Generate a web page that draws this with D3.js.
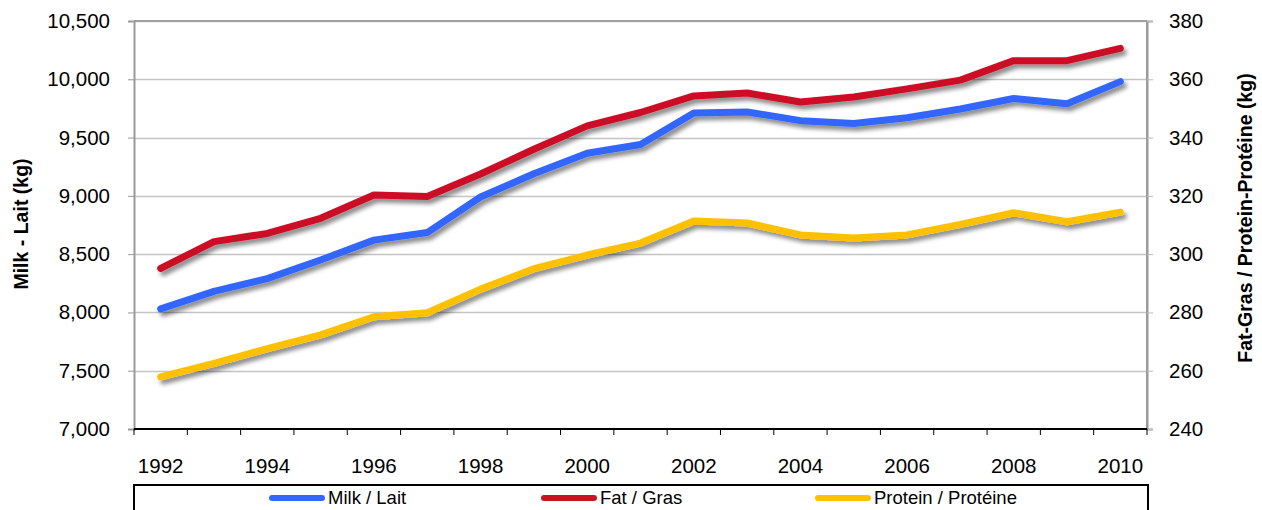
<!DOCTYPE html>
<html>
<head>
<meta charset="utf-8">
<script src="https://cdn.jsdelivr.net/npm/d3@7"></script>
<style>
  body { margin: 0; background: #fff; }
  #chart { width: 1262px; height: 510px; }
  text { font-family: "Liberation Sans", Arial, sans-serif; }
</style>
</head>
<body>
<div id="chart"></div>
<script>
const years = d3.range(1992, 2011);
const milk = [8030, 8180, 8290, 8450, 8620, 8685, 8990, 9190, 9365, 9440, 9710, 9720, 9645, 9620, 9670, 9745, 9835, 9790, 9980];
const fat = [295.1, 304.3, 307.1, 312.3, 320.3, 319.8, 327.5, 336.0, 344.0, 348.6, 354.3, 355.3, 352.2, 353.9, 356.7, 359.7, 366.4, 366.4, 370.6];
const protein = [257.9, 262.5, 267.6, 272.3, 278.5, 279.9, 288.0, 295.0, 299.7, 303.8, 311.4, 310.7, 306.6, 305.5, 306.6, 310.2, 314.2, 311.1, 314.4];
const leftTicks = [7000, 7500, 8000, 8500, 9000, 9500, 10000, 10500];
const rightTicks = [240, 260, 280, 300, 320, 340, 360, 380];
const seriesNames = ["Milk / Lait", "Fat / Gras", "Protein / Protéine"];

const W = 1262, H = 510;
const margin = { top: 21, right: 115, bottom: 81, left: 134 };
const width = W - margin.left - margin.right;
const height = H - margin.top - margin.bottom;

const svg = d3.select("#chart").append("svg")
  .attr("width", W).attr("height", H);

const defs = svg.append("defs");
const shadow = defs.append("filter").attr("id", "shadow")
  .attr("x", "-5%").attr("y", "-20%").attr("width", "110%").attr("height", "140%");
shadow.append("feDropShadow")
  .attr("dx", 3).attr("dy", 4).attr("stdDeviation", 2.2)
  .attr("flood-color", "#000").attr("flood-opacity", 0.45);

const g = svg.append("g").attr("transform", `translate(${margin.left},${margin.top})`);

// Scales
const x = d3.scaleBand().domain(years).range([0, width]);
const yL = d3.scaleLinear().domain([7000, 10500]).range([height, 0]);
const yR = d3.scaleLinear().domain([240, 380]).range([height, 0]);

// Gridlines
g.append("g")
  .selectAll("line")
  .data(leftTicks.slice(1))
  .join("line")
  .attr("x1", 0).attr("x2", width)
  .attr("y1", (d) => Math.round(yL(d)) + 0.5)
  .attr("y2", (d) => Math.round(yL(d)) + 0.5)
  .attr("stroke", "#c4c4c4").attr("stroke-width", 1.5);

// Frame (top, right)
g.append("line").attr("x1", 0).attr("x2", width).attr("y1", 0).attr("y2", 0)
  .attr("stroke", "#a0a0a0").attr("stroke-width", 2);
g.append("line").attr("x1", width).attr("x2", width).attr("y1", 0).attr("y2", height)
  .attr("stroke", "#a0a0a0").attr("stroke-width", 2);

// Left axis
g.append("g")
  .call(d3.axisLeft(yL).tickValues(leftTicks).tickFormat(d3.format(",")).tickSize(6).tickPadding(18))
  .call((a) => a.select(".domain").attr("stroke", "#999").attr("stroke-width", 2))
  .call((a) => a.selectAll(".tick line").attr("stroke", "#999"))
  .selectAll("text")
  .attr("fill", "#000")
  .style("font-size", "20.5px");

// Right axis
g.append("g")
  .attr("transform", `translate(${width},0)`)
  .call(d3.axisRight(yR).tickValues(rightTicks).tickSize(6).tickPadding(16))
  .call((a) => a.select(".domain").attr("stroke", "#999").attr("stroke-width", 2))
  .call((a) => a.selectAll(".tick line").attr("stroke", "#bbb"))
  .selectAll("text")
  .attr("fill", "#000")
  .style("font-size", "20.5px");

// Bottom axis: ticks between categories, labels every other year
const xAxis = g.append("g").attr("transform", `translate(0,${height})`);
xAxis.append("line").attr("x1", 0).attr("x2", width).attr("y1", 0).attr("y2", 0)
  .attr("stroke", "#000").attr("stroke-width", 2);
xAxis.selectAll(".sep")
  .data(years.concat([2011]))
  .join("line")
  .attr("class", "sep")
  .attr("x1", (d) => (d === 2011 ? width : x(d)))
  .attr("x2", (d) => (d === 2011 ? width : x(d)))
  .attr("y1", 0).attr("y2", 6)
  .attr("stroke", "#000");
xAxis.selectAll(".lbl")
  .data(years.filter((d) => d % 2 === 0))
  .join("text")
  .attr("class", "lbl")
  .attr("x", (d) => x(d) + x.bandwidth() / 2)
  .attr("y", 44)
  .attr("text-anchor", "middle")
  .attr("fill", "#000")
  .style("font-size", "20.5px")
  .text((d) => d);

// Axis titles
svg.append("text")
  .attr("transform", `translate(28,224) rotate(-90)`)
  .attr("text-anchor", "middle")
  .style("font-size", "19.5px").style("font-weight", "bold")
  .text("Milk - Lait (kg)");
svg.append("text")
  .attr("transform", `translate(1252,218) rotate(-90)`)
  .attr("text-anchor", "middle")
  .style("font-size", "19.5px").style("font-weight", "bold")
  .text("Fat-Gras / Protein-Protéine (kg)");

// Lines
const cx = (i) => x(years[i]) + x.bandwidth() / 2;
const series = [
  { values: milk, scale: yL, color: "#3366ff" },
  { values: fat, scale: yR, color: "#cc1126" },
  { values: protein, scale: yR, color: "#ffc000" },
];
const drawOrder = [2, 0, 1];
drawOrder.forEach((k) => {
  const s = series[k];
  const line = d3.line().x((d, i) => cx(i)).y((d) => s.scale(d));
  g.append("path")
    .datum(s.values)
    .attr("fill", "none")
    .attr("stroke", s.color)
    .attr("stroke-width", 7)
    .attr("stroke-linejoin", "round")
    .attr("stroke-linecap", "round")
    .attr("filter", "url(#shadow)")
    .attr("d", line);
});

// Legend
const legend = svg.append("g");
legend.append("rect")
  .attr("x", margin.left).attr("y", 485)
  .attr("width", width + 1).attr("height", 40)
  .attr("fill", "#fff").attr("stroke", "#000").attr("stroke-width", 2);
const legendX = [272, 544, 818];
seriesNames.forEach((name, i) => {
  const lg = legend.append("g").attr("transform", `translate(${legendX[i]},498)`);
  lg.append("line")
    .attr("x1", 0).attr("x2", 50)
    .attr("stroke", series[i].color).attr("stroke-width", 6)
    .attr("stroke-linecap", "round");
  lg.append("text")
    .attr("x", 56).attr("dy", "0.35em")
    .attr("fill", "#000")
    .style("font-size", "18.5px")
    .text(name);
});
</script>
</body>
</html>
